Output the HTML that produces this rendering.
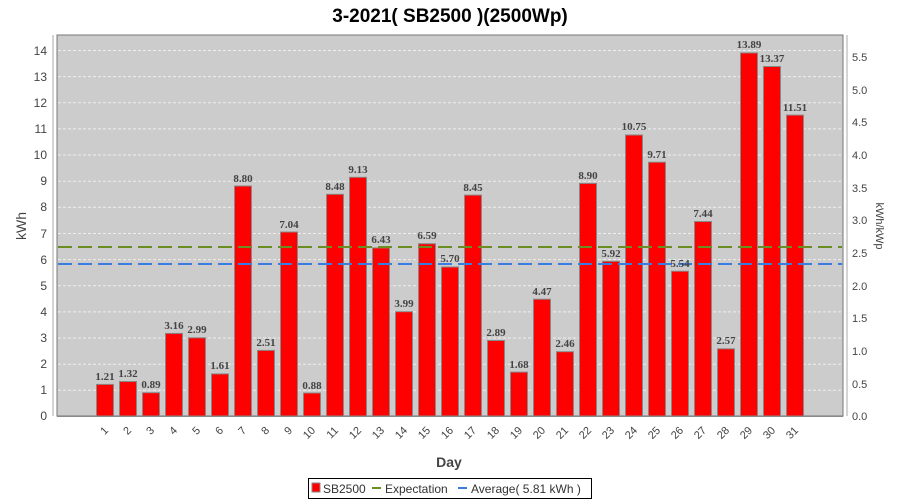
<!DOCTYPE html>
<html><head><meta charset="utf-8"><style>body{margin:0;background:#fff}svg{display:block}</style></head><body>
<svg width="900" height="500" xmlns="http://www.w3.org/2000/svg" font-family="Liberation Sans, DejaVu Sans, sans-serif">
<text x="450" y="22" text-anchor="middle" font-size="19" font-weight="bold" fill="#000">3-2021( SB2500 )(2500Wp)</text>
<rect x="57" y="35" width="786" height="381" fill="#cccccc" stroke="#777" stroke-width="1"/>
<g stroke="#eee" stroke-dasharray="3,2" stroke-width="1">
<line x1="58" x2="842" y1="50.5" y2="50.5"/><line x1="58" x2="842" y1="76.6" y2="76.6"/><line x1="58" x2="842" y1="102.8" y2="102.8"/><line x1="58" x2="842" y1="128.9" y2="128.9"/><line x1="58" x2="842" y1="155" y2="155"/><line x1="58" x2="842" y1="181.2" y2="181.2"/><line x1="58" x2="842" y1="207.3" y2="207.3"/><line x1="58" x2="842" y1="233.5" y2="233.5"/><line x1="58" x2="842" y1="259.6" y2="259.6"/><line x1="58" x2="842" y1="285.7" y2="285.7"/><line x1="58" x2="842" y1="311.9" y2="311.9"/><line x1="58" x2="842" y1="338" y2="338"/><line x1="58" x2="842" y1="364.2" y2="364.2"/><line x1="58" x2="842" y1="390.3" y2="390.3"/>
</g>
<line x1="53" y1="35" x2="53" y2="416" stroke="#aaa"/>
<line x1="847" y1="35" x2="847" y2="416" stroke="#aaa"/>
<line x1="57" y1="416.5" x2="843" y2="416.5" stroke="#888"/>
<g font-size="12" fill="#444" text-anchor="end">
<text x="47" y="55">14</text><text x="47" y="81">13</text><text x="47" y="107">12</text><text x="47" y="133">11</text><text x="47" y="159">10</text><text x="47" y="185">9</text><text x="47" y="211">8</text><text x="47" y="238">7</text><text x="47" y="264">6</text><text x="47" y="290">5</text><text x="47" y="316">4</text><text x="47" y="342">3</text><text x="47" y="368">2</text><text x="47" y="394">1</text><text x="47" y="420">0</text>
</g>
<g font-size="11" fill="#444">
<text x="852" y="61">5.5</text><text x="852" y="94">5.0</text><text x="852" y="126">4.5</text><text x="852" y="159">4.0</text><text x="852" y="192">3.5</text><text x="852" y="224">3.0</text><text x="852" y="257">2.5</text><text x="852" y="290">2.0</text><text x="852" y="322">1.5</text><text x="852" y="355">1.0</text><text x="852" y="388">0.5</text><text x="852" y="420">0.0</text>
</g>
<text transform="translate(26,226) rotate(-90)" text-anchor="middle" font-size="14" fill="#444">kWh</text>
<text transform="translate(876,226) rotate(90)" text-anchor="middle" font-size="11" fill="#444">kWh/kWp</text>
<g fill="#ff0000" stroke="#888" stroke-width="1">
<rect x="96.5" y="384.4" width="17" height="31.6"/><rect x="119.5" y="381.5" width="17" height="34.5"/><rect x="142.5" y="392.7" width="17" height="23.3"/><rect x="165.5" y="333.4" width="17" height="82.6"/><rect x="188.5" y="337.8" width="17" height="78.2"/><rect x="211.5" y="373.9" width="17" height="42.1"/><rect x="234.5" y="186" width="17" height="230"/><rect x="257.5" y="350.4" width="17" height="65.6"/><rect x="280.5" y="232" width="17" height="184"/><rect x="303.5" y="393" width="17" height="23"/><rect x="326.5" y="194.3" width="17" height="221.7"/><rect x="349.5" y="177.3" width="17" height="238.7"/><rect x="372.5" y="247.9" width="17" height="168.1"/><rect x="395.5" y="311.7" width="17" height="104.3"/><rect x="418.5" y="243.7" width="17" height="172.3"/><rect x="441.5" y="267" width="17" height="149"/><rect x="464.5" y="195.1" width="17" height="220.9"/><rect x="487.5" y="340.5" width="17" height="75.5"/><rect x="510.5" y="372.1" width="17" height="43.9"/><rect x="533.5" y="299.2" width="17" height="116.8"/><rect x="556.5" y="351.7" width="17" height="64.3"/><rect x="579.5" y="183.4" width="17" height="232.6"/><rect x="602.5" y="261.3" width="17" height="154.7"/><rect x="625.5" y="135" width="17" height="281"/><rect x="648.5" y="162.2" width="17" height="253.8"/><rect x="671.5" y="271.2" width="17" height="144.8"/><rect x="694.5" y="221.5" width="17" height="194.5"/><rect x="717.5" y="348.8" width="17" height="67.2"/><rect x="740.5" y="52.9" width="17" height="363.1"/><rect x="763.5" y="66.5" width="17" height="349.5"/><rect x="786.5" y="115.1" width="17" height="300.9"/>
</g>
<line x1="58" x2="842" y1="247" y2="247" stroke="#6b8e23" stroke-width="2" stroke-dasharray="14,6"/>
<line x1="58" x2="842" y1="264" y2="264" stroke="#3a7de0" stroke-width="2" stroke-dasharray="14,6"/>
<g font-family="Liberation Serif, serif" font-size="11" font-weight="bold" fill="#444" text-anchor="middle">
<text x="105" y="380">1.21</text><text x="128" y="377">1.32</text><text x="151" y="388">0.89</text><text x="174" y="329">3.16</text><text x="197" y="333">2.99</text><text x="220" y="369">1.61</text><text x="243" y="182">8.80</text><text x="266" y="346">2.51</text><text x="289" y="228">7.04</text><text x="312" y="389">0.88</text><text x="335" y="190">8.48</text><text x="358" y="173">9.13</text><text x="381" y="243">6.43</text><text x="404" y="307">3.99</text><text x="427" y="239">6.59</text><text x="450" y="262">5.70</text><text x="473" y="191">8.45</text><text x="496" y="336">2.89</text><text x="519" y="368">1.68</text><text x="542" y="295">4.47</text><text x="565" y="347">2.46</text><text x="588" y="179">8.90</text><text x="611" y="257">5.92</text><text x="634" y="130">10.75</text><text x="657" y="158">9.71</text><text x="680" y="267">5.54</text><text x="703" y="217">7.44</text><text x="726" y="344">2.57</text><text x="749" y="48">13.89</text><text x="772" y="62">13.37</text><text x="795" y="111">11.51</text>
</g>
<g font-size="11" fill="#444" text-anchor="end">
<text transform="translate(109,431) rotate(-45)">1</text><text transform="translate(132,431) rotate(-45)">2</text><text transform="translate(155,431) rotate(-45)">3</text><text transform="translate(178,431) rotate(-45)">4</text><text transform="translate(201,431) rotate(-45)">5</text><text transform="translate(224,431) rotate(-45)">6</text><text transform="translate(247,431) rotate(-45)">7</text><text transform="translate(270,431) rotate(-45)">8</text><text transform="translate(293,431) rotate(-45)">9</text><text transform="translate(316,431) rotate(-45)">10</text><text transform="translate(339,431) rotate(-45)">11</text><text transform="translate(362,431) rotate(-45)">12</text><text transform="translate(385,431) rotate(-45)">13</text><text transform="translate(408,431) rotate(-45)">14</text><text transform="translate(431,431) rotate(-45)">15</text><text transform="translate(454,431) rotate(-45)">16</text><text transform="translate(477,431) rotate(-45)">17</text><text transform="translate(500,431) rotate(-45)">18</text><text transform="translate(523,431) rotate(-45)">19</text><text transform="translate(546,431) rotate(-45)">20</text><text transform="translate(569,431) rotate(-45)">21</text><text transform="translate(592,431) rotate(-45)">22</text><text transform="translate(615,431) rotate(-45)">23</text><text transform="translate(638,431) rotate(-45)">24</text><text transform="translate(661,431) rotate(-45)">25</text><text transform="translate(684,431) rotate(-45)">26</text><text transform="translate(707,431) rotate(-45)">27</text><text transform="translate(730,431) rotate(-45)">28</text><text transform="translate(753,431) rotate(-45)">29</text><text transform="translate(776,431) rotate(-45)">30</text><text transform="translate(799,431) rotate(-45)">31</text>
</g>
<text x="449" y="467" text-anchor="middle" font-size="14" font-weight="bold" fill="#444">Day</text>
<rect x="308.5" y="478.5" width="283" height="20" fill="#fff" stroke="#000"/>
<rect x="312" y="483" width="8" height="9" fill="#f00" stroke="#888"/>
<text x="323" y="493" font-size="12" fill="#333">SB2500</text>
<line x1="372" x2="381" y1="488" y2="488" stroke="#6b8e23" stroke-width="2"/>
<text x="385" y="493" font-size="12" fill="#333">Expectation</text>
<line x1="458" x2="467" y1="488" y2="488" stroke="#3a7de0" stroke-width="2"/>
<text x="471" y="493" font-size="12" fill="#333">Average( 5.81 kWh )</text>
</svg>
</body></html>
